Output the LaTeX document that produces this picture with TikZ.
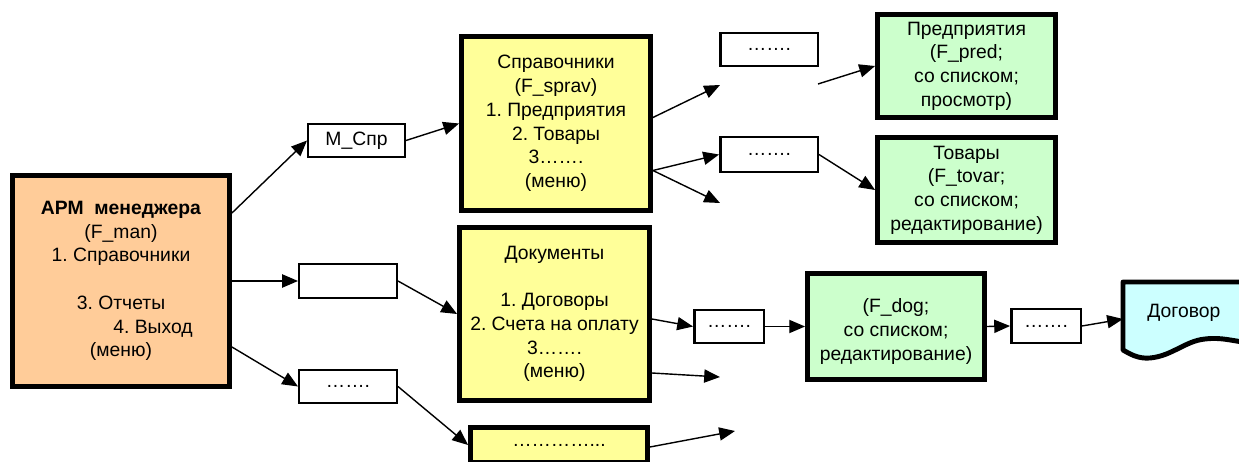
\documentclass[tikz,border=0pt]{standalone}
\usepackage{fontspec}
\setmainfont{Liberation Sans}
\usetikzlibrary{arrows.meta, positioning, calc}
\frenchspacing

\definecolor{manorange}{HTML}{FFCC99}
\definecolor{formyellow}{HTML}{FFFF99}
\definecolor{formgreen}{HTML}{CCFFCC}
\definecolor{doccyan}{HTML}{CCFFFF}

\begin{document}
\begin{tikzpicture}[
    x=0.02cm, y=-0.02cm,
    font=\fontsize{11}{13.5}\selectfont,
    thickbox/.style={draw, line width=2.8pt, align=center, inner sep=2pt},
    thinbox/.style={draw, line width=1.4pt, fill=white, inner sep=2pt},
    arr/.style={-{Triangle[length=9pt,width=7.5pt]}, line width=0.8pt}
]

    \useasboundingbox (0,0) rectangle (1239,462);

    % Main form
    \node[thickbox, fill=manorange, minimum width=4.34cm, minimum height=4.22cm] (man) at (121,281) {
        \textbf{АРМ\ \ менеджера}\\
        (F\_man)\\
        1. Справочники\\[13.5pt]
        3. Отчеты\\
        \hspace*{1.28cm}4. Выход\\
        (меню)
    };

    % Menu items
    \node[thinbox, minimum width=1.93cm, minimum height=0.65cm] (mspr) at (356.5,140.5) {М\_Спр};
    \node[thinbox, minimum width=1.95cm, minimum height=0.67cm] (blank) at (348,281) {};
    \node[thinbox, minimum width=1.95cm, minimum height=0.65cm] (dotsM) at (348,386.5) {…….};

    % Second level forms
    \node[thickbox, fill=formyellow, minimum width=3.78cm, minimum height=3.48cm] (sprav) at (556,123.5) {
        Справочники\\
        (F\_sprav)\\
        1. Предприятия\\
        2. Товары\\
        3…….\\
        (меню)
    };
    \node[thickbox, fill=formyellow, minimum width=3.80cm, minimum height=3.46cm] (docs) at (554.5,314) {
        Документы\\[13.5pt]
        1. Договоры\\
        2. Счета на оплату\\
        3…….\\
        (меню)
    };
    \node[thickbox, fill=formyellow, minimum width=3.54cm, minimum height=0.70cm] (other) at (559,445) {…………...};

    % Directory items
    \node[thinbox, minimum width=1.95cm, minimum height=0.65cm] (dotsA) at (769,49.5) {…….};
    \node[thinbox, minimum width=1.95cm, minimum height=0.69cm] (dotsB) at (769,154.5) {…….};
    \node[thinbox, minimum width=1.39cm, minimum height=0.65cm] (dotsC) at (729,326.5) {…….};
    \node[thinbox, minimum width=1.39cm, minimum height=0.67cm] (dotsD) at (1046,326) {…….};

    % Third level forms
    \node[thickbox, fill=formgreen, minimum width=3.56cm, minimum height=2.06cm] (pred) at (966.5,66) {
        Предприятия\\
        (F\_pred;\\
        со списком;\\
        просмотр)
    };
    \node[thickbox, fill=formgreen, minimum width=3.56cm, minimum height=2.10cm] (tovar) at (966.5,190) {
        Товары\\
        (F\_tovar;\\
        со списком;\\
        редактирование)
    };
    \node[thickbox, fill=formgreen, minimum width=3.54cm, minimum height=2.12cm] (dog) at (896,326.5) {
        ~\\
        (F\_dog;\\
        со списком;\\
        редактирование)
    };

    % Report document
    \draw[line width=2.8pt, fill=doccyan, line join=round] (1123,350) -- (1123,282) -- (1250,282) -- (1250,343)
        .. controls (1232,341) and (1222,337) .. (1205,339)
        .. controls (1185,341) and (1172,356) .. (1150,358)
        .. controls (1138,359) and (1130,354) .. (1123,350) -- cycle;
    \node[anchor=west, inner sep=0pt] (dogovor) at (1147,313) {Договор};
    \coordinate (dogin) at (1123,319);

    % Free arrow ends
    \coordinate (sprUp) at (720,85);
    \coordinate (predFrom) at (818,84);
    \coordinate (sprDn) at (720,203);
    \coordinate (docFree) at (720,377);
    \coordinate (otherFree) at (735,431);

    % Connectors
    \draw[arr] ($(man.east)+(0,-68)$) -- (mspr.west);
    \draw[arr] (man.east) -- (blank.west);
    \draw[arr] ($(man.east)+(0,66)$) -- (dotsM.west);
    \draw[arr] (mspr.east) -- (sprav.west);
    \draw[arr] (blank.east) -- (docs.west);
    \draw[arr] (dotsM.east) -- (other.west);

    \draw[arr] ($(sprav.east)+(0,-6)$) -- (sprUp);
    \draw[arr] (predFrom) -- (pred.west);
    \draw[arr] ($(sprav.east)+(0,47)$) -- (dotsB.west);
    \draw[arr] ($(sprav.east)+(0,47)$) -- (sprDn);
    \draw[arr] (dotsB.east) -- (tovar.west);

    \draw[arr] ($(docs.east)+(0,5)$) -- (dotsC.west);
    \draw[arr] ($(docs.east)+(0,59)$) -- (docFree);
    \draw[arr] ($(other.east)+(0,2)$) -- (otherFree);
    \draw[arr] (dotsC.east) -- (dog.west);
    \draw[arr] (dog.east) -- (dotsD.west);
    \draw[arr] (dotsD.east) -- (dogin);

\end{tikzpicture}
\end{document}
